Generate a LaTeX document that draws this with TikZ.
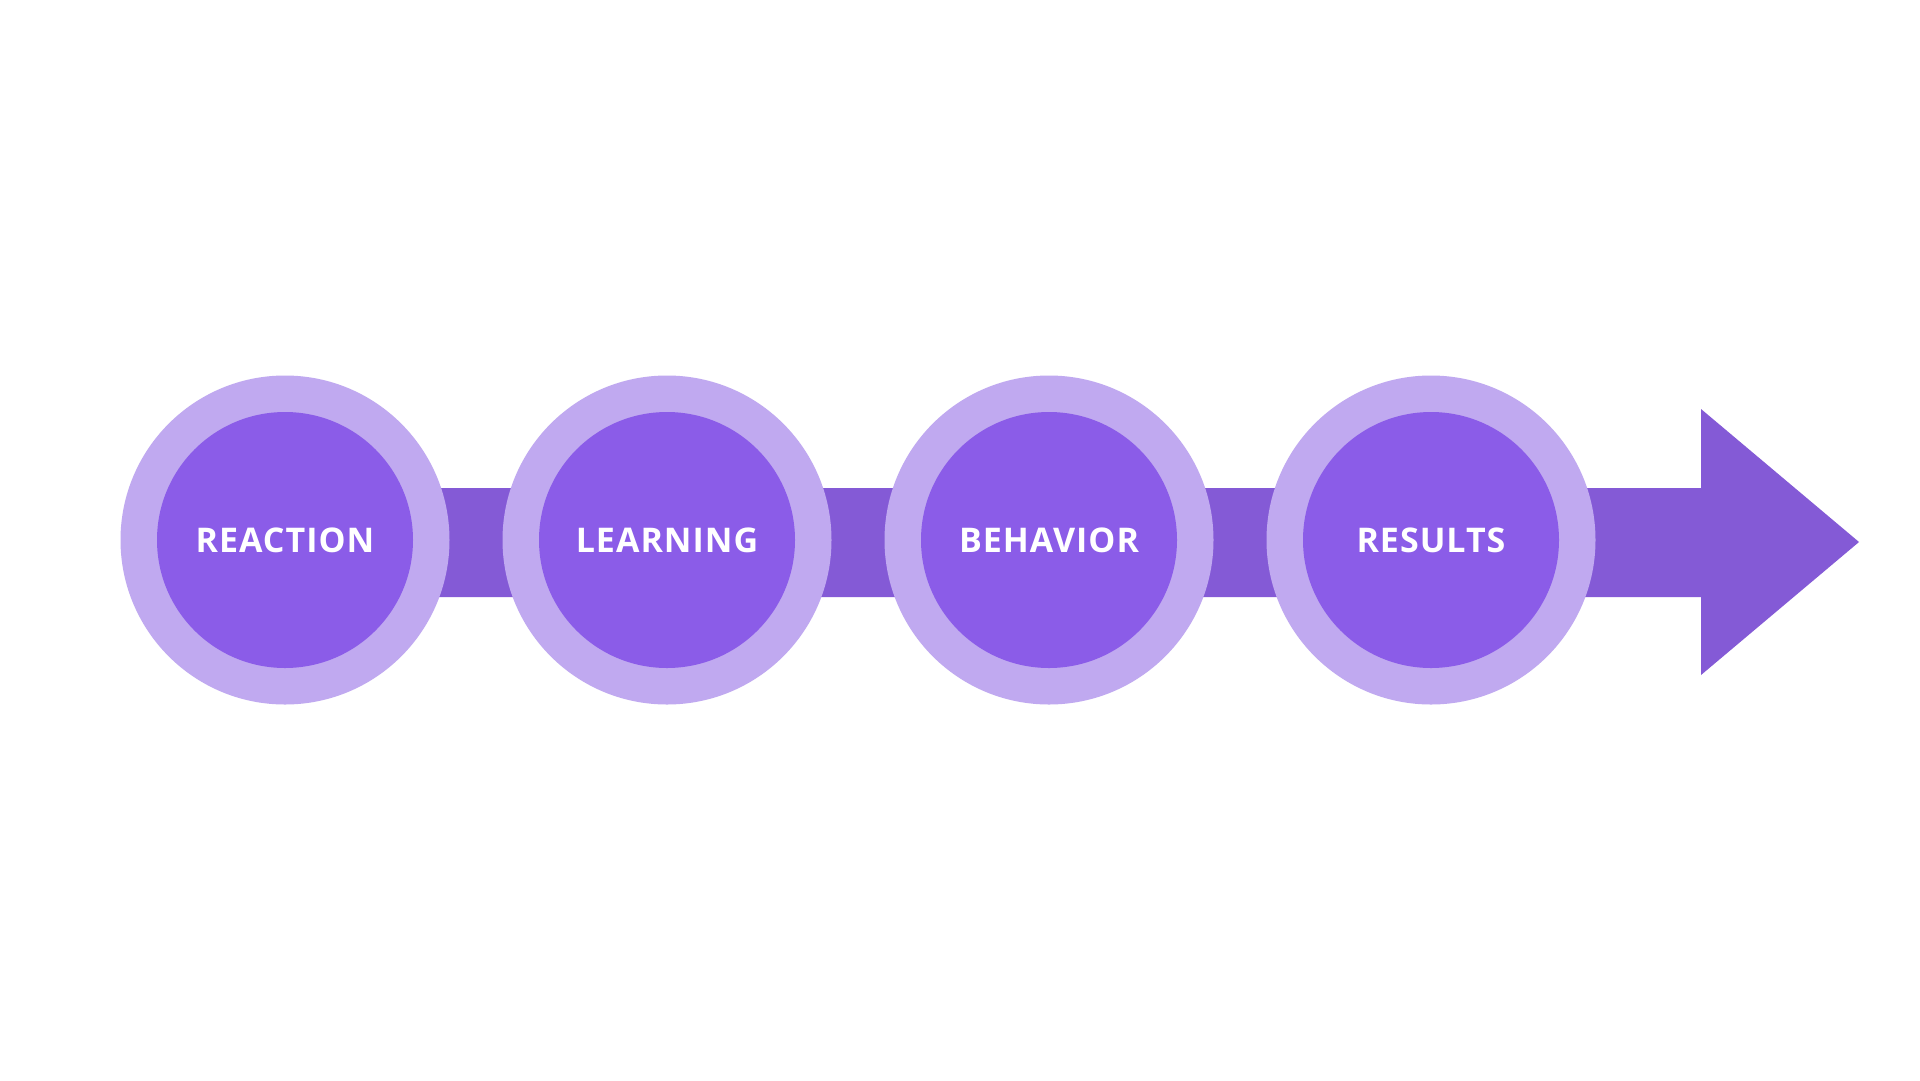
\documentclass[tikz,border=0pt]{standalone}
\usepackage{fontspec}
\setmainfont{Open Sans}
\newfontfamily\labelfont[LetterSpace=3]{Open Sans}
\definecolor{ringc}{RGB}{192,169,240}
\definecolor{corec}{RGB}{139,92,232}
\definecolor{arrowc}{RGB}{132,90,214}
\begin{document}
\begin{tikzpicture}[x=1pt,y=-1pt,
  ring/.style={circle,fill=ringc,minimum size=329pt,inner sep=0pt},
  core/.style={circle,fill=corec,minimum size=256pt,inner sep=0pt,text=white,
    font=\labelfont\fontsize{34}{36}\selectfont\bfseries}]
\useasboundingbox (0,0) rectangle (1920,1080);
\fill[white] (0,0) rectangle (1920,1080);
% arrow
\fill[arrowc] (285,488) -- (1701,488) -- (1701,409) -- (1859,542) -- (1701,675) -- (1701,597) -- (285,597) -- cycle;
\foreach \i/\x/\t in {a/285/REACTION,b/667/LEARNING,c/1049/BEHAVIOR,d/1431/RESULTS}{
  \node[ring] (r\i) at (\x,540) {};
  \node[core] (c\i) at (\x,540) {\t};
}
\end{tikzpicture}
\end{document}
